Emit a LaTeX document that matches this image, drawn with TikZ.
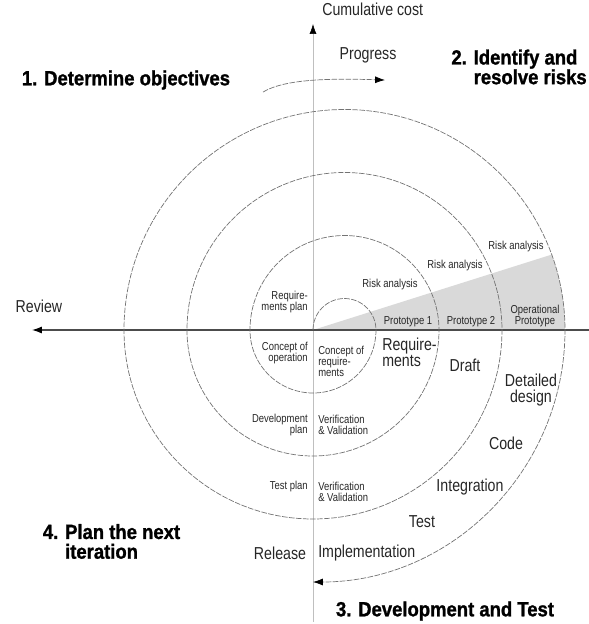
\documentclass[tikz,border=0pt]{standalone}
\usepackage{fontspec}
\setmainfont{Liberation Sans}
\newfontfamily\narrowfont[FakeStretch=0.82]{Liberation Sans}
\newfontfamily\headfont[FakeStretch=0.9,BoldFeatures={FakeBold=1.2}]{Liberation Sans}
\usepackage{tikz}
\usetikzlibrary{arrows.meta, positioning}

\begin{document}
\begin{tikzpicture}[scale=0.025,
  phase/.style={font=\headfont\bfseries\fontsize{14.6}{14}\selectfont, align=left, inner sep=0pt},
  lbl/.style={font=\narrowfont\fontsize{12.3}{11.5}\selectfont, text=black!85, inner sep=0pt},
  smalltxt/.style={font=\narrowfont\fontsize{8.2}{7.8}\selectfont, text=black!85, inner sep=0pt},
  spiral/.style={draw=black!55, line width=0.5pt, dash pattern=on 4pt off 1pt},
  axisarrow/.style={-{Latex[length=7pt,width=5pt,color=black]}}]
\useasboundingbox (-313,-294) rectangle (276,330);

% shaded prototype wedge
\fill[gray!30] (0,0) -- (252,0) arc[start angle=0, end angle=20, radius=220.5] -- cycle;

% axes
\coordinate (O) at (0,0);
\coordinate (costtip) at (0,306);
\coordinate (axisbottom) at (0,-292);
\coordinate (reviewtip) at (-281,0);
\coordinate (axisright) at (276,0);
\draw[black!25, line width=0.4pt] (axisbottom) -- (O);
\draw[black!25, line width=0.4pt, axisarrow] (O) -- (costtip);
\draw[black!70, line width=0.8pt, axisarrow] (axisright) -- (reviewtip);

% the spiral
\draw[spiral, axisarrow] (O)
  arc[start angle=180, end angle=0, radius=31.5]
  arc[start angle=0, end angle=-180, radius=63]
  arc[start angle=180, end angle=0, radius=94.5]
  arc[start angle=0, end angle=-180, radius=126]
  arc[start angle=180, end angle=0, radius=157.5]
  arc[start angle=0, end angle=-180, radius=189]
  arc[start angle=180, end angle=0, radius=220.5]
  arc[start angle=0, end angle=-90, radius=252];

% progress arrow
\coordinate (progstart) at (-50,238);
\coordinate (progend) at (72,250);
\draw[spiral, axisarrow] (progstart) .. controls (-30,250) and (10,252) .. (progend);

% axis labels
\node[lbl, anchor=west] (cost) at (9,321) {Cumulative cost};
\node[lbl] (progress) at (55,275) {Progress};
\node[lbl] (review) at (-274,24) {Review};

% quadrant titles
\node[phase] (objectives) at (-187,250) {1. Determine objectives};
\node[phase, anchor=east] (risks) at (274,263) {2. Identify and\\\phantom{2. }resolve risks};
\node[phase] (devtest) at (132,-281) {3. Development and Test};
\node[phase] (nextiter) at (-201.5,-211.5) {4. Plan the next\\\phantom{4. }iteration};

% upper half
\node[smalltxt, anchor=east, align=right] (reqplan) at (-5,28) {Require-\\ments plan};
\node[smalltxt] (risk1) at (77,45) {Risk analysis};
\node[smalltxt] (risk2) at (142,64) {Risk analysis};
\node[smalltxt] (risk3) at (203,83) {Risk analysis};
\node[smalltxt] (proto1) at (95,8) {Prototype 1};
\node[smalltxt] (proto2) at (158,8) {Prototype 2};
\node[smalltxt, align=center] (opproto) at (222,14) {Operational\\Prototype};

% lower half
\node[smalltxt, anchor=east, align=right] (conop) at (-5,-23) {Concept of\\operation};
\node[smalltxt, anchor=west, align=left] (conreq) at (5,-31) {Concept of\\require-\\ments};
\node[lbl, anchor=west, align=left] (reqs) at (69,-22) {Require-\\ments};
\node[lbl] (draft) at (152,-35) {Draft};
\node[lbl, align=center] (detdesign) at (218,-60) {Detailed\\design};
\node[lbl] (code) at (193,-113) {Code};
\node[lbl] (integ) at (157,-157) {Integration};
\node[lbl] (test) at (109,-192) {Test};
\node[smalltxt, anchor=east, align=right] (devplan) at (-5,-95) {Development\\plan};
\node[smalltxt, anchor=west, align=left] (vv1) at (5,-95) {Verification\\\& Validation};
\node[smalltxt, anchor=east] (testplan) at (-5,-157) {Test plan};
\node[smalltxt, anchor=west, align=left] (vv2) at (5,-162) {Verification\\\& Validation};
\node[lbl] (release) at (-33,-223) {Release};
\node[lbl, anchor=west] (impl) at (5,-223) {Implementation};
\end{tikzpicture}
\end{document}
